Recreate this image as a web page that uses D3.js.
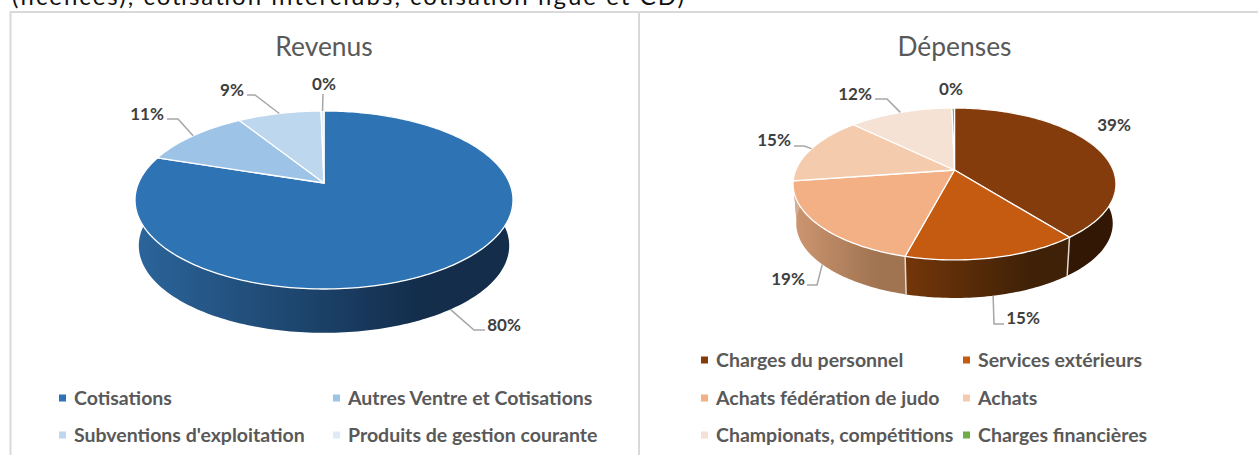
<!DOCTYPE html>
<html>
<head>
<meta charset="utf-8">
<script src="https://cdn.jsdelivr.net/npm/d3@7"></script>
<style>
  html, body { margin: 0; padding: 0; background: #fff; overflow: hidden; }
  svg { display: block; font-family: Lato, "Open Sans", sans-serif; }
</style>
</head>
<body>
<svg id="chart" width="1258" height="455"></svg>
<script>
// values (percent)
const revenusLabels = ["Cotisations", "Autres Ventre et Cotisations", "Subventions d'exploitation", "Produits de gestion courante"];
const revenusValues = [80, 11.1, 8.6, 0.3];
const revenusColors = ["#2e74b5", "#9dc3e6", "#bdd7ee", "#deebf7"];
const revenusWallLight = ["#2b659b", "#7f9db9", "#98acbe", "#b2bcc5"];
const revenusWallDark = ["#132d4b", "#7f9db9", "#98acbe", "#b2bcc5"];

const depensesLabels = ["Charges du personnel", "Services extérieurs", "Achats fédération de judo", "Achats", "Championats, compétitions", "Charges financières"];
const depensesValues = [39.2, 14.7, 18.5, 14.5, 12.4, 0.3];
const depensesColors = ["#843c0c", "#c55a11", "#f2b084", "#f5cbae", "#f6e2d4", "#70ad47"];
const depensesWallLight = ["#321804", "#743609", "#cd9670", "#d4ae94", "#c8b8ac", "#4d7a30"];
const depensesWallDark = ["#321804", "#3f2107", "#a07351", "#d4ae94", "#c8b8ac", "#4d7a30"];

// layout only: label text spot, and the elbow of its leader line (if any)
const revenusSpots = [
  {x: 504, y: 325, ex: 474, ey: 330, lx: 485, wall: true},
  {x: 147, y: 114, ex: 178, ey: 119, lx: 167},
  {x: 232, y: 90, ex: 255, ey: 95, lx: 247},
  {x: 324, y: 84, ex: 323, ey: 94, lx: 323}
];
const depensesSpots = [
  {x: 1114, y: 125},
  {x: 1023, y: 318, ex: 994, ey: 324, lx: 1004, wall: true},
  {x: 788, y: 279, ex: 817, ey: 285, lx: 807, wall: true},
  {x: 774, y: 140, ex: 804, ey: 146, lx: 794},
  {x: 855, y: 94, ex: 887, ey: 99, lx: 875},
  {x: 951, y: 89}
];

const svg = d3.select("#chart");
const textGray = "#595959";

// top of the page above the charts, cut by the crop
svg.append("text")
  .attr("x", 12).attr("y", 5)
  .attr("textLength", 672).attr("lengthAdjust", "spacing")
  .attr("font-size", 24).attr("fill", "#111")
  .text("(licences), cotisation interclubs, cotisation ligue et CD)");

// panel borders
svg.append("path")
  .attr("d", "M10.5,455V12H1258M639,12V455")
  .attr("fill", "none").attr("stroke", "#d9d9d9").attr("stroke-width", 2);

function drawPie(cfg) {
  const g = svg.append("g");
  const arcs = d3.pie().sort(null).value(d => d)(cfg.values);

  // perspective: the near side of the disc comes out bigger, so the apex sits above the ellipse centre
  const project = (theta, r, bottom) => {
    const u = Math.sin(theta) * r, v = -Math.cos(theta) * r;
    const w = 1 - cfg.k * v;
    const s = bottom ? cfg.shrink : 1;
    return [cfg.cx + s * cfg.a * u / w, (bottom ? cfg.yBottom : cfg.yApex) + s * cfg.b * v / w];
  };
  const rim = (a0, a1, bottom) => {
    const n = Math.max(2, Math.ceil((a1 - a0) / 0.02));
    return d3.range(n + 1).map(i => project(a0 + (a1 - a0) * i / n, 1, bottom));
  };
  const line = d3.line();
  const defs = svg.select("defs").empty() ? svg.append("defs") : svg.select("defs");

  // side wall
  arcs.forEach((d, i) => {
    const top = rim(d.startAngle, d.endAngle, false);
    const low = rim(d.startAngle, d.endAngle, true);
    const frontX = top.filter(p => p[1] > cfg.yApex - 5).map(p => p[0]);
    const [x0, x1] = frontX.length > 1 ? d3.extent(frontX) : d3.extent(top, p => p[0]);
    const id = cfg.id + "-wall-" + i;
    const grad = defs.append("linearGradient").attr("id", id)
      .attr("gradientUnits", "userSpaceOnUse")
      .attr("x1", x0).attr("x2", x1).attr("y1", 0).attr("y2", 0);
    grad.append("stop").attr("offset", 0).attr("stop-color", cfg.wallLight[i]);
    grad.append("stop").attr("offset", 0.76).attr("stop-color", cfg.wallDark[i]);
    g.append("path")
      .attr("d", line(top.concat(low.reverse())) + "Z")
      .attr("fill", "url(#" + id + ")");
  });

  // seams between slices on the wall
  arcs.forEach(d => {
    if (-Math.cos(d.startAngle) > 0.15) {
      g.append("path")
        .attr("d", line([project(d.startAngle, 1, false), project(d.startAngle, 1, true)]))
        .attr("stroke", "#e4dad2").attr("stroke-width", 1.5);
    }
  });

  // top face
  arcs.forEach((d, i) => {
    g.append("path")
      .attr("d", line([project(0, 0, false)].concat(rim(d.startAngle, d.endAngle, false))) + "Z")
      .attr("fill", cfg.colors[i])
      .attr("stroke", "#fff").attr("stroke-width", 1.3).attr("stroke-linejoin", "round");
  });

  // leaders and % labels
  arcs.forEach((d, i) => {
    const spot = cfg.spots[i];
    if (spot.ex !== undefined) {
      const mid = (d.startAngle + d.endAngle) / 2;
      g.append("path")
        .attr("d", line([project(mid, 1, !!spot.wall), [spot.ex, spot.ey], [spot.lx, spot.ey]]))
        .attr("fill", "none").attr("stroke", "#a6a6a6").attr("stroke-width", 1.5);
    }
    g.append("text")
      .attr("x", spot.x).attr("y", spot.y)
      .attr("dy", "0.35em").attr("text-anchor", "middle")
      .attr("font-size", 17).attr("font-weight", 700).attr("fill", "#404040")
      .text(Math.round(d.data) + "%");
  });

  // title
  g.append("text")
    .attr("x", cfg.cx).attr("y", 56).attr("text-anchor", "middle")
    .attr("font-size", 26.4).attr("fill", textGray)
    .text(cfg.title);

  // legend, filled row by row
  const item = g.selectAll("g.item").data(cfg.labels).join("g").attr("class", "item")
    .attr("transform", (d, i) => `translate(${cfg.legendX[i % 2]},${cfg.legendY[Math.floor(i / 2)]})`);
  item.append("rect").attr("x", 0).attr("y", -3.5).attr("width", 7).attr("height", 7)
    .attr("fill", (d, i) => cfg.colors[i]);
  item.append("text").attr("x", 15).attr("dy", "0.35em")
    .attr("font-size", 19.5).attr("font-weight", 700).attr("fill", textGray)
    .text(d => d);
}

drawPie({
  id: "rev", title: "Revenus", values: revenusValues, labels: revenusLabels, colors: revenusColors,
  wallLight: revenusWallLight, wallDark: revenusWallDark, spots: revenusSpots,
  cx: 324, yApex: 183, yBottom: 229, a: 185.5, b: 85.75, k: 0.191, shrink: 0.98,
  legendX: [59, 333], legendY: [398, 435]
});

drawPie({
  id: "dep", title: "Dépenses", values: depensesValues, labels: depensesLabels, colors: depensesColors,
  wallLight: depensesWallLight, wallDark: depensesWallDark, spots: depensesSpots,
  cx: 954.5, yApex: 170, yBottom: 209.8, a: 158.7, b: 73.4, k: 0.184, shrink: 0.98,
  legendX: [701, 963], legendY: [360, 398, 435]
});
</script>
</body>
</html>
